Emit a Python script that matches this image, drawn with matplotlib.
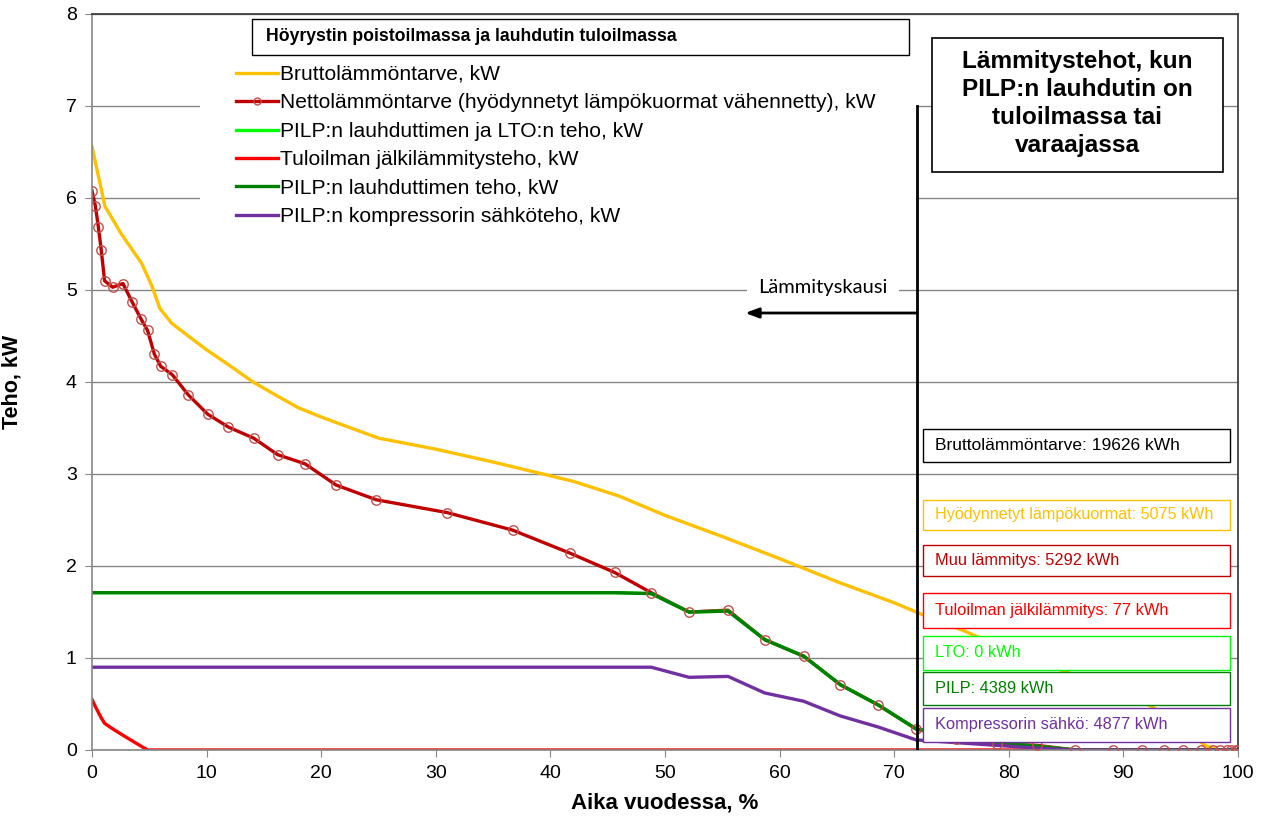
import matplotlib
matplotlib.use("Agg")
import matplotlib.pyplot as plt
from matplotlib.lines import Line2D
from matplotlib.patches import Rectangle

plt.rcParams['font.family'] = ['Liberation Sans', 'DejaVu Sans']

# ---------------- data ----------------
# Bruttolämmöntarve (gross heat demand)
gross_x = [0, 1.13, 2.5, 4.33, 5.2, 5.92, 6.94, 8.4, 10, 12, 14.05, 16, 18, 20, 21.5,
           25, 30, 35, 40, 42, 46, 50, 55, 60, 65, 70, 72.3, 76, 80, 85, 90, 92.2,
           95, 97.1, 98.4, 100]
gross_y = [6.56, 5.91, 5.62, 5.29, 5.05, 4.80, 4.64, 4.50, 4.35, 4.18, 4.00, 3.86, 3.72,
           3.62, 3.55, 3.39, 3.27, 3.13, 2.98, 2.92, 2.76, 2.55, 2.32, 2.08, 1.83, 1.60,
           1.48, 1.30, 1.08, 0.85, 0.60, 0.49, 0.28, 0.05, 0.0, 0.0]

# time axis shared by the remaining series (% of year)
time_x = [0, 0.3, 0.55, 0.8, 1.1, 1.8, 2.7, 3.5, 4.3, 4.85, 5.45, 6.0, 7.0, 8.4, 10.1,
          11.9, 14.1, 16.2, 18.6, 21.3, 24.8, 31.0, 36.7, 41.7, 45.6, 48.8, 52.1, 55.5,
          58.7, 62.1, 65.3, 68.6, 71.9, 75.4, 79.0, 82.5, 85.8, 89.1, 91.6, 93.5, 95.2,
          96.8, 97.8, 98.4, 99.0, 99.4, 99.8, 100]

# Nettolämmöntarve (net heat demand)
net_y = [6.08, 5.91, 5.69, 5.44, 5.10, 5.03, 5.07, 4.87, 4.68, 4.56, 4.30, 4.17, 4.08,
         3.86, 3.65, 3.51, 3.39, 3.21, 3.11, 2.88, 2.72, 2.58, 2.39, 2.14, 1.93, 1.71,
         1.50, 1.52, 1.20, 1.02, 0.71, 0.49, 0.23, 0.12, 0.07, 0.05, 0.0, 0.0, 0.0, 0.0,
         0.0, 0.0, 0.0, 0.0, 0.0, 0.0, 0.0, 0.0]

# PILP:n lauhduttimen ja LTO:n teho
cond_lto_y = [1.71, 1.71, 1.71, 1.71, 1.71, 1.71, 1.71, 1.71, 1.71, 1.71, 1.71, 1.71,
              1.71, 1.71, 1.71, 1.71, 1.71, 1.71, 1.71, 1.71, 1.71, 1.71, 1.71, 1.71,
              1.71, 1.70, 1.50, 1.51, 1.20, 1.02, 0.71, 0.49, 0.23, 0.15, 0.08, 0.04,
              0.0, 0.0, 0.0, 0.0, 0.0, 0.0, 0.0, 0.0, 0.0, 0.0, 0.0, 0.0]

# Tuloilman jälkilämmitysteho
reheat_y = [0.55, 0.47, 0.41, 0.35, 0.29, 0.23, 0.16, 0.10, 0.04, 0.0, 0.0, 0.0, 0.0,
            0.0, 0.0, 0.0, 0.0, 0.0, 0.0, 0.0, 0.0, 0.0, 0.0, 0.0, 0.0, 0.0, 0.0, 0.0,
            0.0, 0.0, 0.0, 0.0, 0.0, 0.0, 0.0, 0.0, 0.0, 0.0, 0.0, 0.0, 0.0, 0.0, 0.0,
            0.0, 0.0, 0.0, 0.0, 0.0]

# PILP:n lauhduttimen teho
cond_y = [1.71, 1.71, 1.71, 1.71, 1.71, 1.71, 1.71, 1.71, 1.71, 1.71, 1.71, 1.71,
          1.71, 1.71, 1.71, 1.71, 1.71, 1.71, 1.71, 1.71, 1.71, 1.71, 1.71, 1.71,
          1.71, 1.70, 1.50, 1.51, 1.20, 1.02, 0.71, 0.49, 0.23, 0.15, 0.08, 0.04,
          0.0, 0.0, 0.0, 0.0, 0.0, 0.0, 0.0, 0.0, 0.0, 0.0, 0.0, 0.0]

# PILP:n kompressorin sähköteho
comp_y = [0.90, 0.90, 0.90, 0.90, 0.90, 0.90, 0.90, 0.90, 0.90, 0.90, 0.90, 0.90,
          0.90, 0.90, 0.90, 0.90, 0.90, 0.90, 0.90, 0.90, 0.90, 0.90, 0.90, 0.90,
          0.90, 0.90, 0.79, 0.80, 0.62, 0.53, 0.37, 0.25, 0.11, 0.08, 0.05, 0.02,
          0.0, 0.0, 0.0, 0.0, 0.0, 0.0, 0.0, 0.0, 0.0, 0.0, 0.0, 0.0]

series_labels = ["Bruttolämmöntarve, kW",
                 "Nettolämmöntarve (hyödynnetyt lämpökuormat vähennetty), kW",
                 "PILP:n lauhduttimen ja LTO:n teho, kW",
                 "Tuloilman jälkilämmitysteho, kW",
                 "PILP:n lauhduttimen teho, kW",
                 "PILP:n kompressorin sähköteho, kW"]

summary_labels = ["Bruttolämmöntarve: 19626 kWh",
                  "Hyödynnetyt lämpökuormat: 5075 kWh",
                  "Muu lämmitys: 5292 kWh",
                  "Tuloilman jälkilämmitys: 77 kWh",
                  "LTO: 0 kWh",
                  "PILP: 4389 kWh",
                  "Kompressorin sähkö: 4877 kWh"]

heating_season_end = 72.0
x_ticks = [0, 10, 20, 30, 40, 50, 60, 70, 80, 90, 100]
y_ticks = [0, 1, 2, 3, 4, 5, 6, 7, 8]

# ---------------- styling ----------------
YELLOW = "#FFC000"
DARKRED = "#C00000"
LIME = "#00FF00"
RED = "#FF0000"
GREEN = "#008000"
PURPLE = "#7030A0"
MARKER_EC = "#C0504D"
GRID = "#868686"

fig = plt.figure(figsize=(12.63, 8.18), dpi=100)
ax = fig.add_axes([92 / 1263, 1 - 750 / 818, (1238 - 92) / 1263, (750 - 14) / 818])

ax.set_xlim(0, 100)
ax.set_ylim(0, 8)
ax.set_xticks(x_ticks)
ax.set_yticks(y_ticks)
ax.set_axisbelow(True)
ax.yaxis.grid(True, color=GRID, linewidth=1.0)
ax.tick_params(axis='both', direction='out', length=5, color=GRID, labelsize=14, pad=6)

for s in ['left', 'bottom']:
    ax.spines[s].set_color(GRID)
    ax.spines[s].set_linewidth(1.2)
for s in ['top', 'right']:
    ax.spines[s].set_color("#404040")
    ax.spines[s].set_linewidth(1.3)

# white area behind the legend (hides gridlines like the original)
ax.add_patch(Rectangle((9.4, 5.62), 62.5, 1.93, facecolor='white', edgecolor='none',
                       zorder=1))

lw = 2.4
ax.plot(gross_x, gross_y, color=YELLOW, lw=lw, zorder=2.0, solid_joinstyle='round')
ax.plot(time_x, net_y, color=DARKRED, lw=lw, zorder=2.1, solid_joinstyle='round')
ax.plot(time_x, cond_lto_y, color=LIME, lw=lw, zorder=2.2, solid_joinstyle='round')
ax.plot(time_x, reheat_y, color=RED, lw=lw, zorder=2.3, solid_joinstyle='round')
ax.plot(time_x, cond_y, color=GREEN, lw=lw, zorder=2.4, solid_joinstyle='round')
ax.plot(time_x, comp_y, color=PURPLE, lw=lw, zorder=2.5, solid_joinstyle='round')
ax.plot(time_x, net_y, ls='none', marker='o', ms=6.8, mfc='none', mec=MARKER_EC,
        mew=1.0, zorder=2.6)

handles = [
    Line2D([], [], color=YELLOW, lw=lw),
    Line2D([], [], color=DARKRED, lw=lw, marker='o', ms=5, mfc='none', mec=MARKER_EC,
           mew=1.0),
    Line2D([], [], color=LIME, lw=lw),
    Line2D([], [], color=RED, lw=lw),
    Line2D([], [], color=GREEN, lw=lw),
    Line2D([], [], color=PURPLE, lw=lw),
]
leg = ax.legend(handles, series_labels, loc='upper left',
                bbox_to_anchor=((236 - 92) / 1146, (750 - 65) / 736),
                frameon=False, fontsize=15.1, handlelength=1.98, handletextpad=0.12,
                labelspacing=0.45, borderpad=0, borderaxespad=0)
leg.set_zorder(6)

# legend title box
ax.add_patch(Rectangle((14.0, 7.55), 57.3, 0.40, facecolor='white', edgecolor='black',
                       lw=1.0, zorder=6))
ax.text(15.2, 7.75, "Höyrystin poistoilmassa ja lauhdutin tuloilmassa",
        fontsize=12.7, fontweight='bold', va='center', ha='left', zorder=7)

# heating season marker
ax.plot([heating_season_end, heating_season_end], [0, 7.0], color='black', lw=2.0,
        zorder=4)
ax.annotate("", xy=(57.0, 4.75), xytext=(heating_season_end, 4.75),
            arrowprops=dict(arrowstyle='-|>,head_length=0.8,head_width=0.3',
                            color='black', lw=2.0, shrinkA=0, shrinkB=0), zorder=4)
ax.text(63.8, 5.03, "Lämmityskausi", family=['Lato', 'DejaVu Sans'], fontsize=14.5,
        ha='center', va='center', zorder=4,
        bbox=dict(facecolor='white', edgecolor='none', pad=8))

# title box
ax.add_patch(Rectangle((73.26, 6.28), 25.43, 1.46, facecolor='white', edgecolor='black',
                       lw=1.2, zorder=6))
ax.text(85.98, 7.03, "Lämmitystehot, kun\nPILP:n lauhdutin on\ntuloilmassa tai\nvaraajassa",
        fontsize=17.6, fontweight='bold', ha='center', va='center', linespacing=1.27,
        zorder=7)

# summary boxes
box_colors = ['black', YELLOW, DARKRED, RED, LIME, GREEN, PURPLE]
box_fontsizes = [12.5, 11.6, 11.8, 11.8, 11.8, 11.8, 11.8]
box_bottoms = [3.13, 2.39, 1.89, 1.33, 0.87, 0.49, 0.09]
box_tops = [3.49, 2.72, 2.23, 1.71, 1.24, 0.85, 0.46]
for lab, col, fs, b, t in zip(summary_labels, box_colors, box_fontsizes, box_bottoms,
                              box_tops):
    ax.add_patch(Rectangle((72.5, b), 26.8, t - b, facecolor='white', edgecolor=col,
                           lw=1.0, zorder=6))
    ax.text(73.6, (b + t) / 2, lab, color=col, fontsize=fs, ha='left', va='center',
            zorder=7)

ax.set_xlabel("Aika vuodessa, %", fontsize=16, fontweight='bold', labelpad=7)
ax.set_ylabel("Teho, kW", fontsize=15.5, fontweight='bold')
ax.yaxis.set_label_coords(-0.061, 0.5)

fig.savefig("out.png", dpi=100)
